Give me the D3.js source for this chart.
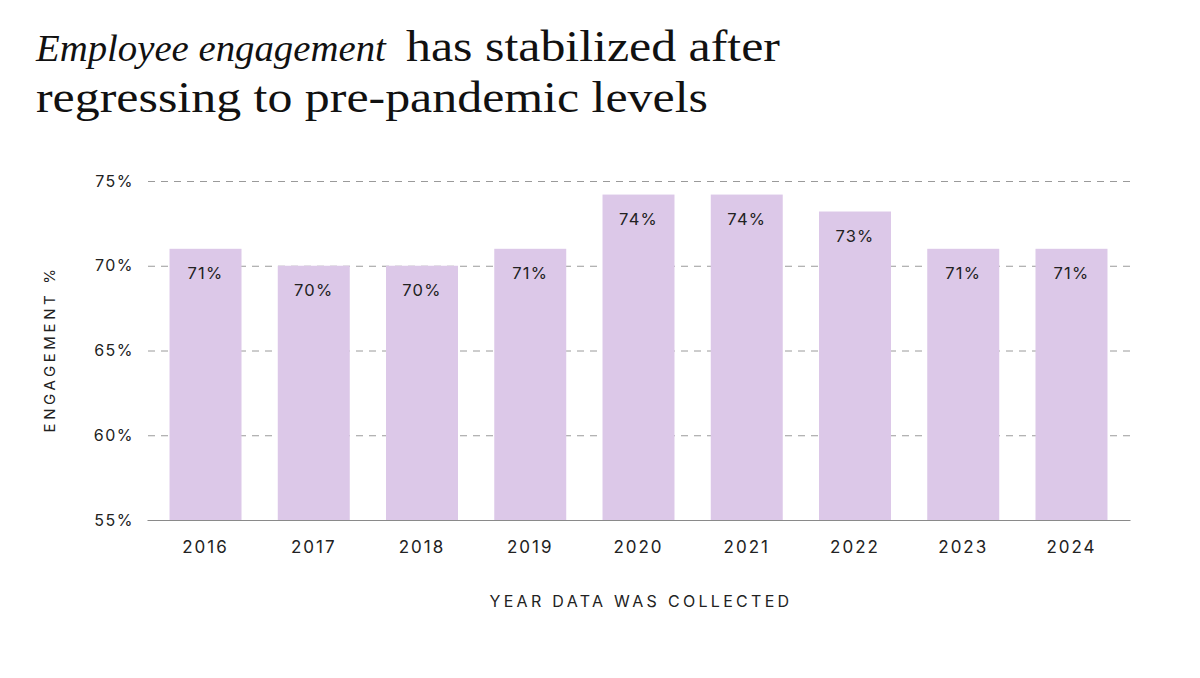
<!DOCTYPE html>
<html><head><meta charset="utf-8">
<script src="https://cdn.jsdelivr.net/npm/d3@7"></script>
<style>body{margin:0;background:#fff}svg{display:block}</style>
</head><body>
<script>
const years = ["2016","2017","2018","2019","2020","2021","2022","2023","2024"];
const engagement = [71,70,70,71,74.2,74.2,73.2,71,71];
const yTicks = [55,60,65,70,75];
const titleScript = "Employee engagement";
const titleLine1 = "has stabilized after";
const titleLine2 = "regressing to pre-pandemic levels";
const yTitle = "ENGAGEMENT %";
const xTitle = "YEAR DATA WAS COLLECTED";

const W=1200,H=678;
const svg=d3.select("body").append("svg").attr("width",W).attr("height",H);

// title
const scriptT=svg.append("text").attr("x",36).attr("y",61).attr("fill","#111")
  .attr("font-family","'Liberation Serif', serif").attr("font-style","italic")
  .attr("font-size",40).text(titleScript);
// fit the script phrase to ~350px width
const natW=scriptT.node().getComputedTextLength();
scriptT.attr("font-size",Math.min(44,40*350/natW));
svg.append("text").attr("x",406).attr("y",61).attr("fill","#111")
  .attr("font-family","'Liberation Serif', serif").attr("font-size",45)
  .attr("textLength",374).attr("lengthAdjust","spacingAndGlyphs").text(titleLine1);
svg.append("text").attr("x",36).attr("y",112).attr("fill","#111")
  .attr("font-family","'Liberation Serif', serif").attr("font-size",45)
  .attr("textLength",672).attr("lengthAdjust","spacingAndGlyphs").text(titleLine2);

const x=d3.scaleBand().domain(years).range([147,1130]).paddingInner(0.335).paddingOuter(0.208);
const y=d3.scaleLinear().domain([55,75]).range([520,181]);

const font="Inter, 'DejaVu Sans', sans-serif";

// gridlines
const gridAxis=d3.axisLeft(y).tickValues(yTicks.filter(d=>d>55)).tickSize(-(1130-148)).tickFormat("");
const gg=svg.append("g").attr("transform","translate(148,0)").call(gridAxis);
gg.select(".domain").remove();
gg.selectAll("line").attr("stroke","#9a9a9a").attr("stroke-width",1).attr("stroke-dasharray","7,6");

// y tick labels
const yAxis=d3.axisLeft(y).tickValues(yTicks).tickSize(0).tickPadding(0).tickFormat(d=>d+"%");
const ya=svg.append("g").attr("transform","translate(134,0)").call(yAxis);
ya.select(".domain").remove();
ya.selectAll("text").attr("font-family",font).attr("font-size",16).attr("fill","#222")
  .attr("letter-spacing","1.5px");

// bars
svg.append("g").selectAll("rect").data(years).join("rect")
  .attr("x",d=>x(d)).attr("width",x.bandwidth())
  .attr("y",(d,i)=>y(engagement[i])).attr("height",(d,i)=>y(55)-y(engagement[i]))
  .attr("fill","#dcc8e8");

// value labels
svg.append("g").selectAll("text").data(years).join("text")
  .attr("x",d=>x(d)+x.bandwidth()/2).attr("y",(d,i)=>y(engagement[i])+30)
  .attr("text-anchor","middle").attr("font-family",font).attr("font-size",16.5)
  .attr("letter-spacing","1.2px").attr("fill","#222")
  .text((d,i)=>Math.round(engagement[i])+"%");

// baseline & x axis
const xAxis=d3.axisBottom(x).tickSize(0).tickPadding(21);
const xa=svg.append("g").attr("transform","translate(0,520)").call(xAxis);
xa.select(".domain").attr("stroke","#8a8a8a").attr("stroke-width",1.2);
xa.selectAll("text").attr("font-family",font).attr("font-size",17).attr("fill","#222")
  .attr("letter-spacing","2px");

// axis titles
svg.append("text").attr("transform","translate(55,349) rotate(-90)").attr("text-anchor","middle")
  .attr("font-family",font).attr("font-size",15).attr("letter-spacing","3.6px").attr("fill","#222").text(yTitle);
svg.append("text").attr("x",641).attr("y",607).attr("text-anchor","middle")
  .attr("font-family",font).attr("font-size",16).attr("letter-spacing","3.3px").attr("fill","#222").text(xTitle);
</script>
</body></html>
